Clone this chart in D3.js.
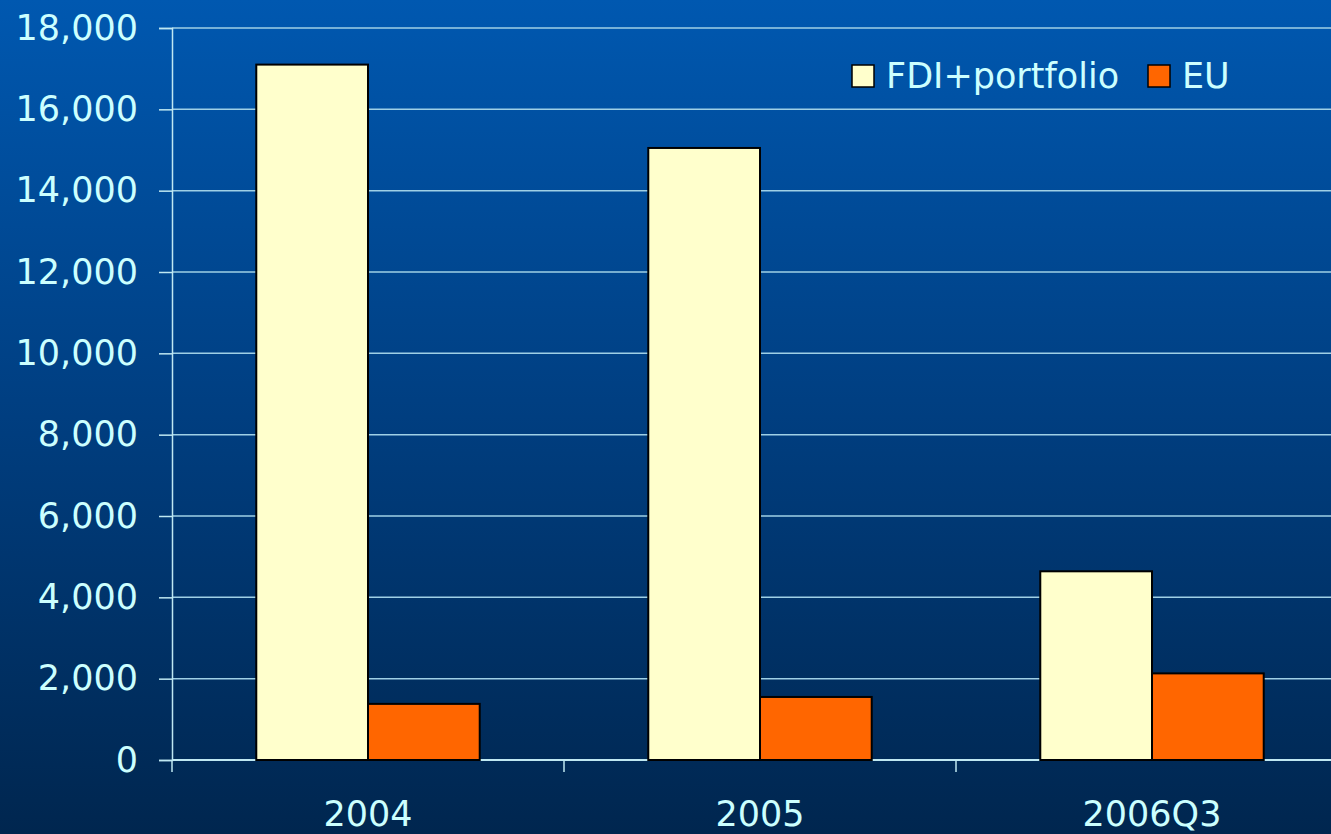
<!DOCTYPE html>
<html>
<head>
<meta charset="utf-8">
<script src="https://cdn.jsdelivr.net/npm/d3@7"></script>
<style>
  html, body { margin: 0; padding: 0; background: #002a58; }
  svg { display: block; }
</style>
</head>
<body>
<div id="chart"></div>
<script>
// data
const categories = ["2004", "2005", "2006Q3"];
const seriesNames = ["FDI+portfolio", "EU"];
const fdiValues = [17100, 15050, 4640];
const euValues = [1380, 1550, 2130];
const yTicks = [0, 2000, 4000, 6000, 8000, 10000, 12000, 14000, 16000, 18000];

const colors = { "FDI+portfolio": "#ffffcc", "EU": "#ff6600" };
const textColor = "#ccffff";
const fontFamily = "'DejaVu Sans', Verdana, sans-serif";
const fontSize = "35px";

const width = 1331;
const height = 834;
const margin = { top: 28, left: 172, bottom: 74 };
const plotRight = 1348; // plot area runs past the frame edge

const svg = d3.select("#chart")
    .append("svg")
    .attr("width", width)
    .attr("height", height);

//Background gradient
const grad = svg.append("defs").append("linearGradient")
    .attr("id", "bg")
    .attr("x1", 0).attr("y1", 0).attr("x2", 0).attr("y2", 1);
grad.append("stop").attr("offset", "0%").attr("stop-color", "#0058b0");
grad.append("stop").attr("offset", "50%").attr("stop-color", "#003e80");
grad.append("stop").attr("offset", "100%").attr("stop-color", "#00264f");
svg.append("rect")
    .attr("width", width)
    .attr("height", height)
    .attr("fill", "url(#bg)");

//Scales
const y = d3.scaleLinear()
    .domain([0, 18000])
    .range([height - margin.bottom, margin.top]);
const x0 = d3.scaleBand()
    .domain(categories)
    .range([margin.left, plotRight])
    .paddingInner(0.43)
    .paddingOuter(0.215);
const x1 = d3.scaleBand()
    .domain(seriesNames)
    .range([0, x0.bandwidth()]);
const xCat = d3.scaleBand()
    .domain(categories)
    .range([margin.left, plotRight]);

//Gridlines
svg.append("g")
    .selectAll("line")
    .data(yTicks.filter(d => d > 0))
    .enter().append("line")
    .attr("x1", margin.left)
    .attr("x2", plotRight)
    .attr("y1", d => y(d))
    .attr("y2", d => y(d))
    .attr("stroke", "#9fd0e6")
    .attr("stroke-width", 1.5);

//Y axis
const yAxis = svg.append("g")
    .attr("transform", `translate(${margin.left},0)`)
    .call(d3.axisLeft(y)
        .tickValues(yTicks)
        .tickFormat(d3.format(","))
        .tickSize(13)
        .tickPadding(21));
yAxis.select(".domain").attr("stroke", "#bfe8f2").attr("stroke-width", 1.5);
yAxis.selectAll(".tick line").attr("stroke", "#bfe8f2").attr("stroke-width", 1.5);
yAxis.selectAll("text")
    .attr("fill", textColor)
    .style("font-family", fontFamily)
    .style("font-size", fontSize);

//X axis
const xAxisG = svg.append("g")
    .attr("transform", `translate(0,${y(0)})`);
xAxisG.append("line")
    .attr("x1", margin.left)
    .attr("x2", plotRight)
    .attr("stroke", "#bfe8f2")
    .attr("stroke-width", 2);
xAxisG.selectAll(".sep")
    .data(categories)
    .enter().append("line")
    .attr("class", "sep")
    .attr("x1", d => xCat(d))
    .attr("x2", d => xCat(d))
    .attr("y1", 0)
    .attr("y2", 12)
    .attr("stroke", "#bfe8f2")
    .attr("stroke-width", 1.5);
xAxisG.selectAll(".lbl")
    .data(categories)
    .enter().append("text")
    .attr("class", "lbl")
    .attr("x", d => xCat(d) + xCat.bandwidth() / 2)
    .attr("y", 66)
    .attr("text-anchor", "middle")
    .attr("fill", textColor)
    .style("font-family", fontFamily)
    .style("font-size", fontSize)
    .text(d => d);

//Bars
const rows = categories.map((c, i) => ({
    category: c,
    values: [
        { name: seriesNames[0], value: fdiValues[i] },
        { name: seriesNames[1], value: euValues[i] }
    ]
}));
const groups = svg.append("g")
    .selectAll("g")
    .data(rows)
    .enter().append("g")
    .attr("transform", d => `translate(${x0(d.category)},0)`);
groups.selectAll("rect")
    .data(d => d.values)
    .enter().append("rect")
    .attr("x", d => x1(d.name))
    .attr("width", x1.bandwidth())
    .attr("y", d => y(d.value))
    .attr("height", d => y(0) - y(d.value))
    .attr("fill", d => colors[d.name])
    .attr("stroke", "#000")
    .attr("stroke-width", 2);

//Legend
const legendItems = [
    { name: seriesNames[0], x: 852 },
    { name: seriesNames[1], x: 1148 }
];
const legend = svg.append("g");
legend.selectAll("rect")
    .data(legendItems)
    .enter().append("rect")
    .attr("x", d => d.x)
    .attr("y", 65)
    .attr("width", 22)
    .attr("height", 22)
    .attr("fill", d => colors[d.name])
    .attr("stroke", "#000")
    .attr("stroke-width", 1.5);
legend.selectAll("text")
    .data(legendItems)
    .enter().append("text")
    .attr("x", d => d.x + 34)
    .attr("y", 88)
    .attr("fill", textColor)
    .style("font-family", fontFamily)
    .style("font-size", fontSize)
    .text(d => d.name);
</script>
</body>
</html>
